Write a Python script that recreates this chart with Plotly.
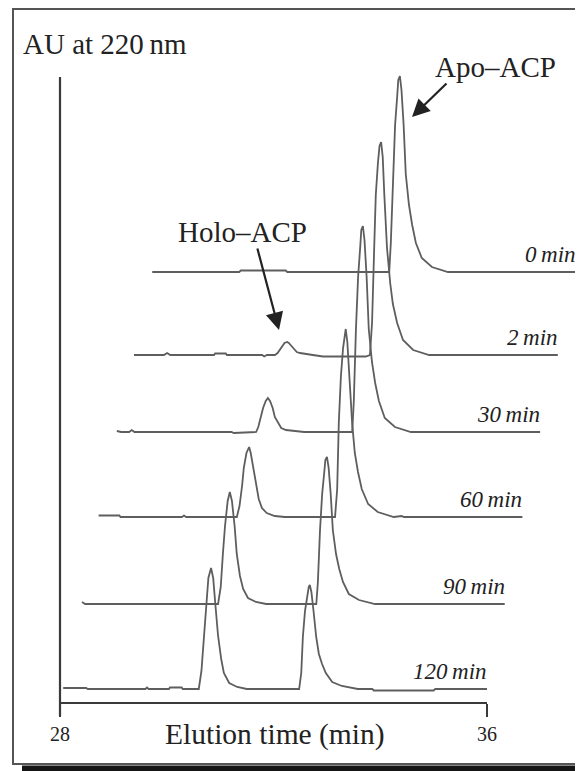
import plotly.graph_objects as go

# ---------------- data ----------------
# elution time (min, in the frame of the front trace) and absorbance (AU above each trace's baseline)
sample_labels = ["0 min", "2 min", "30 min", "60 min", "90 min", "120 min"]
stack_index = [5, 4, 3, 2, 1, 0]                     # depth of each trace in the waterfall
baseline_level = [0.417, 0.334, 0.257, 0.172, 0.085, 0.0]  # vertical stacking (AU)
depth_shift_min = 0.3316                              # horizontal stacking per step (min)

t_0 = [28.07, 29.70, 29.73, 30.57, 30.60,
       32.51, 32.54, 32.58, 32.62, 32.66, 32.68, 32.71, 32.74, 32.78, 32.82, 32.88, 32.94, 33.01, 33.12, 33.31, 33.61,
       36.00]
a_0 = [0.0, 0.0, 0.0015, 0.0015, 0.0,
       0.0, 0.029, 0.098, 0.147, 0.176, 0.192, 0.196, 0.182, 0.147, 0.098, 0.067, 0.047, 0.029, 0.014, 0.005, 0.0,
       0.0]

t_2 = [28.06, 28.62, 28.68, 28.74, 29.56, 29.58, 29.78, 29.80, 30.46, 30.50, 30.55,
       30.70, 30.75, 30.80, 30.83, 30.88, 30.93, 30.96, 31.01, 31.06, 31.11, 31.17, 31.26, 31.41, 31.60,
       32.40,
       32.48, 32.52, 32.56, 32.59, 32.63, 32.66, 32.69, 32.72, 32.75, 32.80, 32.86, 32.91, 32.99, 33.10, 33.29, 33.59,
       36.00]
a_2 = [0.0, 0.0, 0.002, 0.0, 0.0, 0.0015, 0.0015, 0.0, 0.0, -0.0015, 0.0,
       0.0, 0.002, 0.006, 0.009, 0.012, 0.013, 0.012, 0.009, 0.006, 0.003, 0.002, 0.001, 0.0, -0.0015,
       -0.0015,
       0.0, 0.032, 0.107, 0.160, 0.192, 0.209, 0.213, 0.198, 0.160, 0.107, 0.072, 0.051, 0.032, 0.015, 0.005, 0.0,
       0.0]

t_30 = [28.07, 28.15, 28.30, 28.35, 28.40, 30.22, 30.26,
        30.68, 30.72, 30.77, 30.81, 30.86, 30.90, 30.94, 30.99, 31.03, 31.09, 31.15, 31.24, 31.39, 31.58,
        32.48, 32.51, 32.55, 32.59, 32.63, 32.65, 32.68, 32.71, 32.75, 32.79, 32.85, 32.91, 32.98, 33.09, 33.28, 33.58,
        36.00]
a_30 = [0.001, 0.0, 0.0, 0.002, 0.0, 0.0, -0.001,
        0.0, 0.005, 0.015, 0.024, 0.031, 0.034, 0.031, 0.024, 0.015, 0.009, 0.004, 0.002, 0.001, 0.0,
        0.0, 0.031, 0.103, 0.155, 0.185, 0.202, 0.206, 0.192, 0.155, 0.103, 0.070, 0.049, 0.031, 0.014, 0.005, 0.0,
        0.0]

t_60 = [28.06, 28.45, 28.47, 29.62, 29.66, 29.70,
        30.65, 30.70, 30.75, 30.78, 30.83, 30.88, 30.91, 30.96, 31.01, 31.06, 31.12, 31.21, 31.36, 31.55,
        32.49, 32.53, 32.56, 32.60, 32.64, 32.67, 32.69, 32.72, 32.76, 32.81, 32.86, 32.92, 32.99, 33.11, 33.29, 33.59,
        33.74, 33.78, 36.00]
a_60 = [0.0015, 0.0015, 0.0, 0.0, 0.0015, 0.0,
        0.0, 0.011, 0.032, 0.049, 0.064, 0.070, 0.064, 0.049, 0.032, 0.018, 0.009, 0.004, 0.001, 0.0,
        0.0, 0.028, 0.094, 0.141, 0.169, 0.184, 0.188, 0.175, 0.141, 0.094, 0.064, 0.045, 0.028, 0.013, 0.005, 0.0,
        0.001, 0.0, 0.0]

t_90 = [28.08, 28.14,
        30.63, 30.68, 30.72, 30.76, 30.81, 30.85, 30.89, 30.94, 30.98, 31.04, 31.10, 31.19, 31.34, 31.53,
        32.47, 32.50, 32.54, 32.58, 32.62, 32.64, 32.67, 32.70, 32.74, 32.78, 32.84, 32.90, 32.97, 33.08, 33.27, 33.57,
        36.00]
a_90 = [0.002, 0.0,
        0.0, 0.017, 0.050, 0.078, 0.103, 0.112, 0.103, 0.078, 0.050, 0.028, 0.015, 0.006, 0.002, 0.0,
        0.0, 0.022, 0.074, 0.110, 0.132, 0.144, 0.147, 0.137, 0.110, 0.074, 0.050, 0.035, 0.022, 0.010, 0.004, 0.0,
        0.0]

t_120 = [28.06, 28.49, 28.52, 29.60, 29.63, 29.66, 30.04, 30.06, 30.28, 30.30,
         30.60, 30.65, 30.70, 30.74, 30.78, 30.83, 30.87, 30.91, 30.96, 31.02, 31.07, 31.17, 31.32, 31.50,
         32.48, 32.52, 32.55, 32.59, 32.63, 32.66, 32.68, 32.71, 32.75, 32.80, 32.85, 32.91, 32.98, 33.10, 33.28, 33.58,
         33.85, 33.88, 35.00, 35.03, 36.00]
a_120 = [0.001, 0.001, 0.0, 0.0, 0.0015, 0.0, 0.0, 0.0015, 0.0015, 0.0,
         0.0, 0.018, 0.054, 0.085, 0.111, 0.121, 0.111, 0.085, 0.054, 0.030, 0.016, 0.006, 0.002, 0.0,
         0.0, 0.016, 0.052, 0.078, 0.094, 0.102, 0.104, 0.097, 0.078, 0.052, 0.035, 0.025, 0.016, 0.007, 0.003, 0.0,
         0.0, -0.0015, -0.0015, 0.0, 0.0]

times = [t_0, t_2, t_30, t_60, t_90, t_120]
absorb = [a_0, a_2, a_30, a_60, a_90, a_120]

x_ticks = [28, 36]
x_title = "Elution time (min)"
y_title = "AU at 220\u2009nm"
peak_names = ["Apo\u2013ACP", "Holo\u2013ACP"]

# ---------------- layout geometry ----------------
# the page body has an 8px default margin, so the figure is 8px smaller and offset
PAGE_OFF = 8
W, H = 583 - PAGE_OFF, 771 - PAGE_OFF
# plot area in page (reference) pixels
L, R, T, B = 60, 580, 60, 703
PX_PER_MIN = (487 - 60) / 8.0
X_RANGE = [28, 28 + (R - L) / PX_PER_MIN]
Y_RANGE = [-(B - 689) / 1000.0, (689 - T) / 1000.0]

def px(x):
    return (x - L) / (R - L)

def py(y):
    return (B - y) / (B - T)

LINE = "#5e5e5e"
AXC = "#3a3a3a"
SERIF = "Liberation Serif, Times New Roman, serif"

fig = go.Figure()
for name, k, base, t, a in zip(sample_labels, stack_index, baseline_level, times, absorb):
    fig.add_trace(go.Scatter(
        x=[v + k * depth_shift_min for v in t],
        y=[v + base for v in a],
        mode="lines", name=name,
        line=dict(color=LINE, width=1.8),
        showlegend=False, hoverinfo="skip",
    ))
    fig.add_annotation(
        x=t[-1] + k * depth_shift_min, y=base, xref="x", yref="y",
        text="<i>" + name.replace(" ", "\u2009") + "</i>",
        showarrow=False, xanchor="right", yanchor="middle", yshift=18, xshift=2,
        font=dict(family=SERIF, size=23, color="#222"),
    )

shapes = [
    # outer frame
    dict(type="rect", xref="paper", yref="paper", x0=px(13), x1=px(600), y0=py(764), y1=py(9),
         line=dict(color="#555", width=2), fillcolor="rgba(0,0,0,0)"),
    # bottom shadow
    dict(type="rect", xref="paper", yref="paper", x0=px(22), x1=px(600), y0=py(790), y1=py(765.5),
         line=dict(width=0), fillcolor="#151515"),
    # x axis line
    dict(type="line", xref="paper", yref="paper", x0=px(60), x1=px(487), y0=0, y1=0,
         line=dict(color=AXC, width=2.2)),
    # y axis line
    dict(type="line", xref="paper", yref="paper", x0=0, x1=0, y0=py(716), y1=py(77),
         line=dict(color=AXC, width=2.2)),
]

annotations = [
    dict(xref="paper", yref="paper", x=px(21), y=py(44), text=y_title, showarrow=False,
         xanchor="left", yanchor="middle", font=dict(family=SERIF, size=29, color="#222")),
    dict(xref="paper", yref="paper", x=px(275), y=py(734), text=x_title, showarrow=False,
         xanchor="center", yanchor="middle", font=dict(family=SERIF, size=29.5, color="#222")),
    dict(xref="paper", yref="paper", x=px(495), y=py(67), text=peak_names[0], showarrow=False,
         xanchor="center", yanchor="middle", font=dict(family=SERIF, size=29, color="#222")),
    dict(xref="paper", yref="paper", x=px(242), y=py(232), text=peak_names[1], showarrow=False,
         xanchor="center", yanchor="middle", font=dict(family=SERIF, size=29, color="#222")),
    # arrows
    dict(xref="paper", yref="paper", x=px(412), y=py(117), ax=36, ay=-35, text="",
         showarrow=True, arrowhead=2, arrowsize=1.6, arrowwidth=2.2, arrowcolor="#222", standoff=0),
    dict(xref="paper", yref="paper", x=px(279), y=py(330), ax=-22, ay=-83, text="",
         showarrow=True, arrowhead=2, arrowsize=1.6, arrowwidth=2.2, arrowcolor="#222", standoff=0),
]

fig.update_layout(
    width=W, height=H,
    margin=dict(l=L - PAGE_OFF, r=(583 - R), t=T - PAGE_OFF, b=(771 - B), pad=0),
    paper_bgcolor="white", plot_bgcolor="white",
    shapes=shapes,
    xaxis=dict(range=X_RANGE, tickvals=x_ticks, ticktext=[str(v) for v in x_ticks],
               ticks="outside", ticklen=13, tickwidth=2.2, tickcolor=AXC,
               showline=False, showgrid=False, zeroline=False,
               tickfont=dict(family=SERIF, size=20, color="#222")),
    yaxis=dict(range=Y_RANGE, visible=False, showgrid=False, zeroline=False),
)
for a in annotations:
    fig.add_annotation(**a)

fig.write_html("out.html")
